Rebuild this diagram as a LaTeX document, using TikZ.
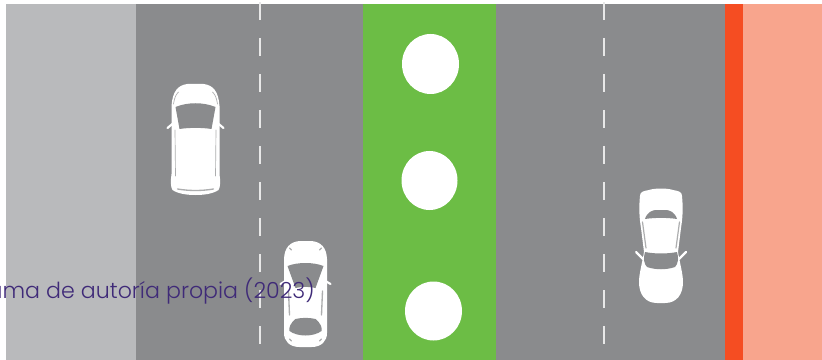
\documentclass[tikz,border=0pt]{standalone}
\usepackage{fontspec}
\setmainfont{Poppins Light}
\definecolor{curb}{HTML}{B9BABC}
\definecolor{road}{HTML}{8A8B8D}
\definecolor{median}{HTML}{6CBD45}
\definecolor{bike}{HTML}{F54D22}
\definecolor{walk}{HTML}{F8A58D}
\definecolor{ink}{HTML}{3F2A78}
\tikzset{
  x=0.75pt,y=-0.75pt,
  band/.style={fill=#1,draw=none},
  lanedash/.style={draw=white!80!road,line width=1.5pt,dash pattern=on 13.5pt off 13.5pt},
  carbody/.style={fill=white,draw=none},
  glass/.style={fill=road,draw=none},
  trim/.style={draw=road!70!white,line width=0.5pt,line cap=round},
  mirror/.style={draw=white,line width=1.6pt,line cap=round},
  spot/.style={fill=white,draw=none}
}
\begin{document}
\begin{tikzpicture}
\useasboundingbox (0,0) rectangle (822,360);
\clip (0,0) rectangle (822,360);
% bands
\path[band=curb] (6,4) rectangle (136,360);
\path[band=road] (136,4) rectangle (363,360);
\path[band=median] (363,4) rectangle (496,360);
\path[band=road] (496,4) rectangle (725,360);
\path[band=bike] (725,4) rectangle (743,360);
\path[band=walk] (743,4) rectangle (822,360);
% lane markings
\draw[lanedash] (259.5,2) -- (259.5,360);
\draw[lanedash] (603.5,2) -- (603.5,360);
% planters
\path[spot] (430.5,64) ellipse [x radius=28.5,y radius=30];
\path[spot] (429.5,180.5) ellipse [x radius=28,y radius=29.5];
\path[spot] (433.5,311) ellipse [x radius=28.5,y radius=29.5];
% car A
\begin{scope}[shift={(195.5,84)}]
  \draw[mirror] (-28,44) -- (-22,39); \draw[mirror] (28,44) -- (22,39);
  \path[carbody] (-8,0) .. controls (-18,1) and (-23,8) .. (-24,22) -- (-24,90) .. controls (-25,97) and (-25,103) .. (-23,106)
     .. controls (-17,110) and (-8,111) .. (0,111) .. controls (8,111) and (17,110) .. (23,106)
     .. controls (25,103) and (25,97) .. (24,90) -- (24,22) .. controls (23,8) and (18,1) .. (8,0) -- cycle;
  \path[glass] (-20,23) .. controls (-8,18) and (8,18) .. (20,23) -- (16,45) .. controls (6,43.5) and (-6,43.5) .. (-16,45) -- cycle;
  \draw[trim] (-20.5,46) -- (-20,92); \draw[trim] (20.5,46) -- (20,92);
  \draw[trim] (-17,8) .. controls (-20,11) and (-21,14) .. (-22,20); \draw[trim] (17,8) .. controls (20,11) and (21,14) .. (22,20);
  \draw[trim,line width=1pt] (-18,105) .. controls (-6,107) and (6,107) .. (18,105);
\end{scope}
% car B
\begin{scope}[shift={(305.5,241)}]
  \draw[mirror] (-25,43) -- (-20,40); \draw[mirror] (25,43) -- (20,40);
  \path[carbody] (-6,0) .. controls (-16,1) and (-21,7) .. (-21.5,18) -- (-21.5,92) .. controls (-21.5,100) and (-16,106) .. (-6,106)
     -- (6,106) .. controls (16,106) and (21.5,100) .. (21.5,92) -- (21.5,18) .. controls (21,7) and (16,1) .. (6,0) -- cycle;
  \path[glass] (-18,25) .. controls (-8,21) and (8,21) .. (18,25) -- (10,47) .. controls (4,45.5) and (-4,45.5) .. (-10,47) -- cycle;
  \path[glass] (-10,78) .. controls (-4,76.5) and (4,76.5) .. (10,78) .. controls (15,82) and (17,87) .. (16,90)
     .. controls (8,96) and (-8,96) .. (-16,90) .. controls (-17,87) and (-15,82) .. (-10,78) -- cycle;
  \draw[trim,line width=1pt] (-17,50) -- (-16,74); \draw[trim,line width=1pt] (17,50) -- (16,74);
  \draw[trim,line width=1pt] (-16,7) -- (-14,9); \draw[trim,line width=1pt] (16,7) -- (14,9);
  \draw[trim,line width=1pt] (-16,98) -- (-14,100); \draw[trim,line width=1pt] (16,98) -- (14,100);
\end{scope}
% car C
\begin{scope}[shift={(661,188)}]
  \draw[mirror] (-25,64) -- (-18,71); \draw[mirror] (25,64) -- (18,71);
  \path[carbody] (-12,2) .. controls (-6,0) and (6,0) .. (12,2) .. controls (18,3) and (21,4) .. (21,8)
     .. controls (22,18) and (22,28) .. (20,40) -- (17,64) .. controls (19,76) and (22,86) .. (22,94)
     .. controls (22,106) and (16,115) .. (4,115) -- (-4,115) .. controls (-16,115) and (-22,106) .. (-22,94)
     .. controls (-22,86) and (-19,76) .. (-17,64) -- (-20,40) .. controls (-22,28) and (-22,18) .. (-21,8) .. controls (-21,4) and (-18,3) .. (-12,2) -- cycle;
  \path[glass] (-16,31) .. controls (-14,24) and (-8,22) .. (-5,22) -- (5,22) .. controls (8,22) and (14,24) .. (16,31)
     .. controls (6,29.5) and (-6,29.5) .. (-16,31) -- cycle;
  \path[glass] (-16,64) .. controls (-6,66) and (6,66) .. (16,64) .. controls (18,70) and (17,76) .. (14,79)
     .. controls (5,82) and (-5,82) .. (-14,79) .. controls (-17,76) and (-18,70) .. (-16,64) -- cycle;
  \draw[trim,line width=0.9pt] (-18.5,34) -- (-15,60); \draw[trim,line width=0.9pt] (18.5,34) -- (15,60);
\end{scope}
% caption
\node[anchor=base east,inner sep=0pt,text=ink,font=\fontsize{16.6pt}{20pt}\selectfont] (caption) at (315,298) {ama de autoría propia (2023)};
\end{tikzpicture}
\end{document}
